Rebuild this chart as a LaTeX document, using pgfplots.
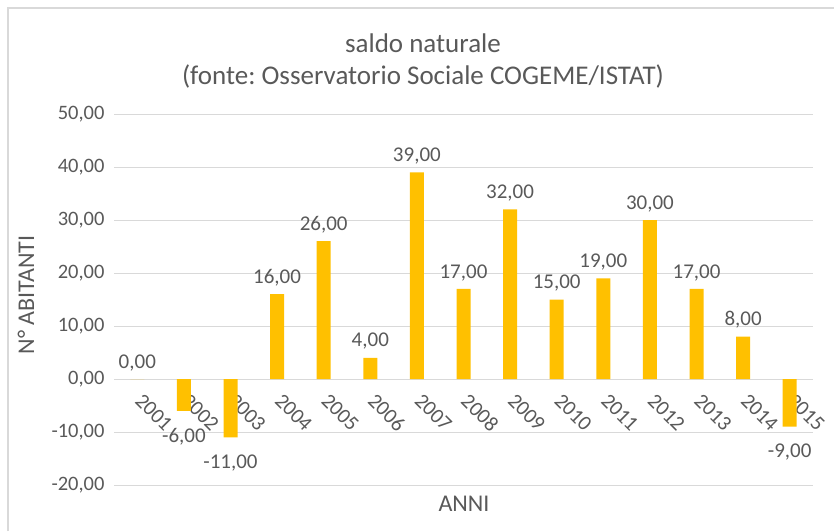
\documentclass[border=0pt]{standalone}
\usepackage{fontspec}
\setmainfont{Carlito}
\usepackage{pgfplots}
\pgfplotsset{compat=1.18}
\definecolor{barc}{HTML}{FFC000}
\definecolor{txt}{HTML}{595959}
\definecolor{grd}{HTML}{D9D9D9}
\frenchspacing

\begin{document}
\begin{tikzpicture}[x=1pt,y=1pt]
\useasboundingbox (0,0) rectangle (834,531);
\draw[grd, line width=1.5pt] (8,0) -- (8,523) -- (834,523);
\node[txt, font=\fontsize{27}{31}\selectfont] at (423,488) {saldo naturale};
\node[txt, font=\fontsize{27}{31}\selectfont] at (423,455) {(fonte: Osservatorio Sociale COGEME/ISTAT)};
\node[txt, rotate=90, font=\fontsize{24}{28}\selectfont] at (26,236) {N° ABITANTI};
\node[txt, font=\fontsize{24}{28}\selectfont] at (464,27) {ANNI};
\begin{axis}[
  at={(114pt,46pt)}, anchor=south west,
  scale only axis, width=699pt, height=371pt,
  xmin=-0.5, xmax=14.5, ymin=-20, ymax=50,
  ytick={-20,-10,...,50},
  xtick={0,...,14},
  xticklabels={2001,2002,2003,2004,2005,2006,2007,2008,2009,2010,2011,2012,2013,2014,2015},
  axis x line*=middle, axis y line*=left,
  axis line style={draw=none},
  major tick length=0pt,
  ymajorgrids, grid style={grd, line width=0.9pt},
  every tick label/.append style={txt, font=\fontsize{20.5}{24}\selectfont},
  xticklabel style={anchor=west, xshift=-1pt, yshift=-16pt, rotate=-45, font=\fontsize{21}{24}\selectfont},
  yticklabel style={xshift=-6pt},
  /pgf/number format/.cd, fixed, fixed zerofill, precision=2, use comma, assume math mode=true,
]
\addplot[ybar, bar width=14pt, fill=barc, draw=none,
  visualization depends on={y \as \rawy},
  nodes near coords, nodes near coords align={vertical},
  every node near coord/.append style={txt, font=\fontsize{21}{24}\selectfont, inner sep=8pt,
    yshift={ifthenelse(\rawy<0,-9,0)}}]
coordinates {
(0,0) (1,-6) (2,-11) (3,16) (4,26) (5,4) (6,39) (7,17) (8,32) (9,15) (10,19) (11,30) (12,17) (13,8) (14,-9)
};
\end{axis}
\end{tikzpicture}
\end{document}
